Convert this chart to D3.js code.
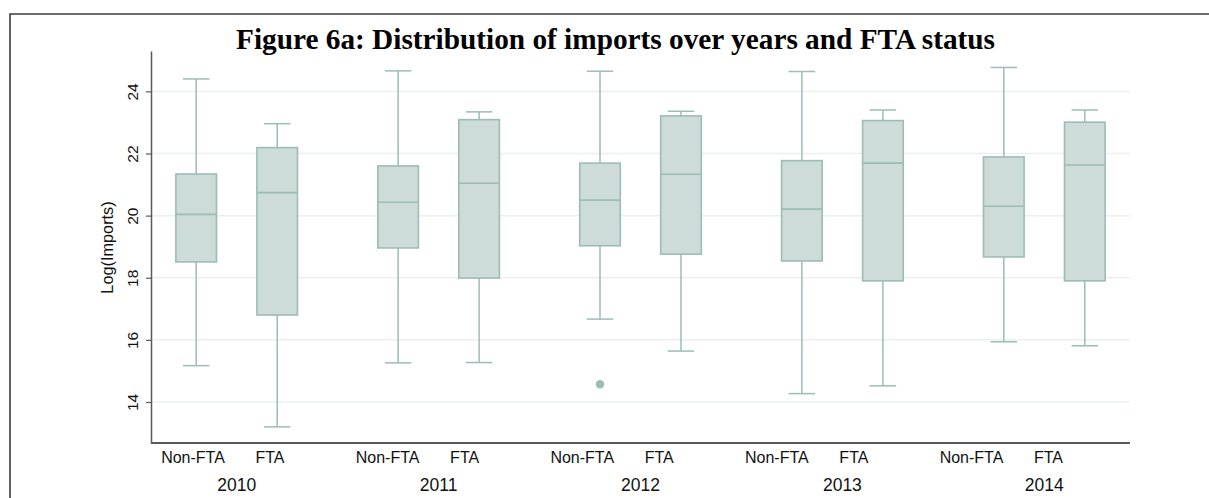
<!DOCTYPE html>
<html>
<head>
<meta charset="utf-8">
<script src="https://cdn.jsdelivr.net/npm/d3@7"></script>
<style>
  html, body { margin: 0; padding: 0; background: #ffffff; }
  svg { display: block; }
</style>
</head>
<body>
<svg id="chart" width="1209" height="498"></svg>
<script>
// ---- data ----
const years = ["2010", "2011", "2012", "2013", "2014"];
const groups = ["Non-FTA", "FTA"];
const yTicks = [14, 16, 18, 20, 22, 24];

const nonFtaUpper  = [24.40, 24.66, 24.65, 24.64, 24.77];
const nonFtaQ3     = [21.34, 21.60, 21.69, 21.77, 21.89];
const nonFtaMedian = [20.04, 20.43, 20.50, 20.21, 20.30];
const nonFtaQ1     = [18.51, 18.96, 19.03, 18.54, 18.67];
const nonFtaLower  = [15.17, 15.26, 16.67, 14.27, 15.94];

const ftaUpper  = [22.96, 23.34, 23.36, 23.40, 23.40];
const ftaQ3     = [22.19, 23.09, 23.21, 23.06, 23.01];
const ftaMedian = [20.74, 21.04, 21.33, 21.69, 21.63];
const ftaQ1     = [16.80, 17.99, 18.76, 17.90, 17.90];
const ftaLower  = [13.20, 15.27, 15.64, 14.52, 15.81];

const outlierYears  = ["2012"];
const outlierGroups = ["Non-FTA"];
const outlierValues = [14.57];

const titleText = "Figure 6a: Distribution of imports over years and FTA status";
const yTitle = "Log(Imports)";

(function () {
// ---- build table ----
const boxes = [];
years.forEach((yr, i) => {
  boxes.push({year: yr, group: "Non-FTA", hi: nonFtaUpper[i], q3: nonFtaQ3[i], med: nonFtaMedian[i], q1: nonFtaQ1[i], lo: nonFtaLower[i]});
  boxes.push({year: yr, group: "FTA", hi: ftaUpper[i], q3: ftaQ3[i], med: ftaMedian[i], q1: ftaQ1[i], lo: ftaLower[i]});
});
const outliers = outlierValues.map((v, i) => ({year: outlierYears[i], group: outlierGroups[i], value: v}));

// ---- style ----
const fillC = "#cddbd9";
const strokeC = "#9dbcb6";
const gridC = "#e9f0ee";
const axisC = "#5a5a5a";
const sans = "'Liberation Sans', Arial, Helvetica, sans-serif";

const svg = d3.select("#chart");
const pLeft = 151, pRight = 1130, pTop = 51, pBottom = 443;

// outer frame
svg.append("path")
  .attr("d", `M10,${498 + 5} L10,14 L${1209 + 5},14`)
  .attr("fill", "none").attr("stroke", "#3c3c3c").attr("stroke-width", 1.6);

// scales
const y = d3.scaleLinear().domain([12.68, 25.30]).range([pBottom, pTop]);
const xGroup = d3.scalePoint().domain(years).range([pLeft, pRight]).padding(0.4245);
const xInner = d3.scalePoint().domain(groups).range([-40.5, 40.5]);
const xLabelGroup = d3.scalePoint().domain(years).range([231.5, 1010]);
const xLabelInner = d3.scalePoint().domain(groups).range([-38.5, 38.5]);
const boxW = 40.6, capW = 26.5;
const cx = d => xGroup(d.year) + xInner(d.group);

// gridlines
svg.append("g").selectAll("line").data(yTicks).join("line")
  .attr("x1", pLeft).attr("x2", pRight)
  .attr("y1", d => y(d)).attr("y2", d => y(d))
  .attr("stroke", gridC).attr("stroke-width", 1.5);

// y axis
const yAxis = svg.append("g").attr("transform", `translate(${pLeft},0)`)
  .call(d3.axisLeft(y).tickValues(yTicks).tickSize(5).tickSizeOuter(0).tickFormat(d3.format("d")));
yAxis.select(".domain").attr("stroke", axisC).attr("stroke-width", 1.5);
yAxis.selectAll(".tick line").attr("stroke", axisC).attr("stroke-width", 1.2);
yAxis.selectAll(".tick text")
  .attr("font-family", sans).attr("font-size", 15.5).attr("fill", "#111")
  .attr("x", 0).attr("dy", 0)
  .attr("text-anchor", "middle")
  .attr("transform", "translate(-13.5,0) rotate(-90)");

// x axis line
svg.append("line").attr("x1", pLeft).attr("x2", pRight).attr("y1", pBottom).attr("y2", pBottom)
  .attr("stroke", axisC).attr("stroke-width", 1.8);

// y title
svg.append("text").text(yTitle)
  .attr("transform", `translate(112.5,${(pTop + pBottom) / 2 + 0.5}) rotate(-90)`)
  .attr("text-anchor", "middle")
  .attr("font-family", sans).attr("font-size", 16.3).attr("fill", "#111");

// boxes
const g = svg.append("g");
g.selectAll("line.wu").data(boxes).join("line").attr("class", "wu")
  .attr("x1", cx).attr("x2", cx).attr("y1", d => y(d.hi)).attr("y2", d => y(d.q3))
  .attr("stroke", strokeC).attr("stroke-width", 1.5);
g.selectAll("line.wl").data(boxes).join("line").attr("class", "wl")
  .attr("x1", cx).attr("x2", cx).attr("y1", d => y(d.q1)).attr("y2", d => y(d.lo))
  .attr("stroke", strokeC).attr("stroke-width", 1.5);
g.selectAll("line.cu").data(boxes).join("line").attr("class", "cu")
  .attr("x1", d => cx(d) - capW / 2).attr("x2", d => cx(d) + capW / 2)
  .attr("y1", d => y(d.hi)).attr("y2", d => y(d.hi))
  .attr("stroke", strokeC).attr("stroke-width", 1.5);
g.selectAll("line.cl").data(boxes).join("line").attr("class", "cl")
  .attr("x1", d => cx(d) - capW / 2).attr("x2", d => cx(d) + capW / 2)
  .attr("y1", d => y(d.lo)).attr("y2", d => y(d.lo))
  .attr("stroke", strokeC).attr("stroke-width", 1.5);
g.selectAll("rect.box").data(boxes).join("rect").attr("class", "box")
  .attr("x", d => cx(d) - boxW / 2).attr("width", boxW)
  .attr("y", d => y(d.q3)).attr("height", d => y(d.q1) - y(d.q3))
  .attr("fill", fillC).attr("stroke", strokeC).attr("stroke-width", 1.6);
g.selectAll("line.med").data(boxes).join("line").attr("class", "med")
  .attr("x1", d => cx(d) - boxW / 2).attr("x2", d => cx(d) + boxW / 2)
  .attr("y1", d => y(d.med)).attr("y2", d => y(d.med))
  .attr("stroke", strokeC).attr("stroke-width", 1.6);
g.selectAll("circle.out").data(outliers).join("circle").attr("class", "out")
  .attr("cx", cx).attr("cy", d => y(d.value)).attr("r", 4.2)
  .attr("fill", "#9dbcb6");

// category labels
const subLabels = [];
years.forEach(yr => groups.forEach(gr => subLabels.push({year: yr, group: gr})));
svg.append("g").selectAll("text").data(subLabels).join("text")
  .attr("x", d => xLabelGroup(d.year) + xLabelInner(d.group))
  .attr("y", 463.3)
  .attr("text-anchor", "middle")
  .attr("font-family", sans).attr("font-size", 16).attr("fill", "#111")
  .text(d => d.group);
svg.append("g").selectAll("text").data(years).join("text")
  .attr("x", d => xGroup(d)).attr("y", 491)
  .attr("text-anchor", "middle")
  .attr("font-family", sans).attr("font-size", 17.5).attr("fill", "#111")
  .text(d => d);

// title
svg.append("text").text(titleText)
  .attr("x", 615.5).attr("y", 48.5)
  .attr("text-anchor", "middle")
  .attr("font-family", "'Liberation Serif', 'Times New Roman', serif")
  .attr("font-weight", "bold").attr("font-size", 29).attr("fill", "#000")
  .attr("textLength", 759).attr("lengthAdjust", "spacingAndGlyphs");
})();
</script>
</body>
</html>
